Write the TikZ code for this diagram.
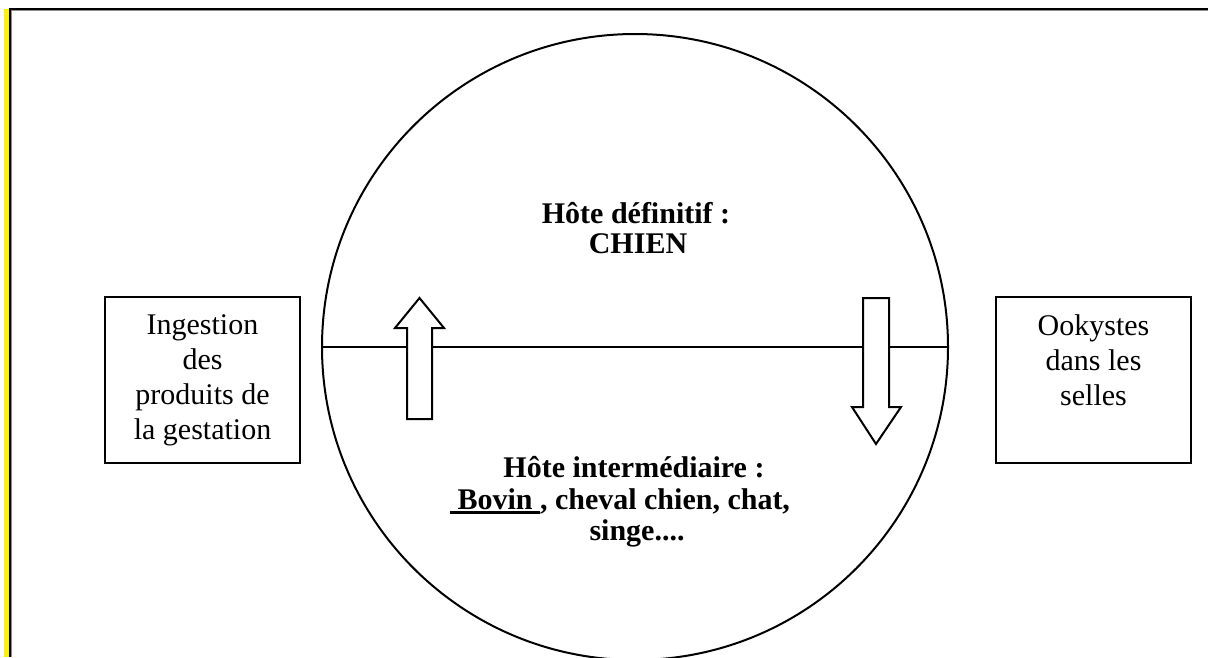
\documentclass[tikz,border=0pt]{standalone}
\usepackage{fontspec}
\setmainfont{Liberation Serif}
% underline drawn as a thick rule under the word
\newcommand\thickul[1]{\setbox0\hbox{#1}\rlap{\rule[-4.5pt]{\wd0}{2.6pt}}\box0}
\begin{document}
\begin{tikzpicture}[x=1pt,y=-1pt,line width=2pt,
  stagebox/.style={draw,line width=2pt,minimum width=195pt,minimum height=166pt,inner sep=0pt},
  boxtext/.style={font=\fontsize{30}{35}\selectfont,align=center,anchor=north,inner sep=0pt},
  hostline/.style={font=\fontsize{30}{32}\selectfont\bfseries,anchor=base,inner sep=0pt},
  blockarrow/.style={draw,fill=white,line width=2pt,line join=miter}]
\useasboundingbox (0,0) rectangle (1208,657);

% page frame with yellow margin strip
\fill[yellow] (4,9) rectangle (9,657);
\draw[black!45,line width=1pt] (11.5,657) -- (11.5,10.5) -- (1208,10.5);
\draw[line width=2.4pt] (10,657) -- (10,9) -- (1208,9);

% host circle split into definitive / intermediate halves
\node[circle,draw,minimum size=626pt,inner sep=0pt] (host) at (635,347) {};
\draw (host.west) -- (host.east);

% side boxes
\node[stagebox] (ingest) at (202.5,380) {};
\node[boxtext] (ingesttxt) at (202.5,314) {Ingestion\\des\\produits de\\la gestation};
\node[stagebox] (oocyst) at (1093.5,380) {};
\node[boxtext] (oocysttxt) at (1093.5,314) {Ookystes\\dans les\\selles};

% host labels
\node[hostline] (defA) at (636,223) {Hôte définitif :};
\node[hostline] (defB) at (638,253) {CHIEN};
\node[hostline] (intA) at (634,477) {Hôte intermédiaire :};
\node[hostline] (intB) at (620,509) {\thickul{\ Bovin\ }, cheval chien, chat,};
\node[hostline] (intC) at (637,540) {singe....};

% block arrows across the dividing line
\draw[blockarrow] (407,419) -- (407,328) -- (395,328) -- (419.5,298) -- (444,328) -- (432,328) -- (432,419) -- cycle;
\draw[blockarrow] (863,298) -- (863,407) -- (852,407) -- (876,444) -- (901,407) -- (889,407) -- (889,298) -- cycle;
\end{tikzpicture}
\end{document}
